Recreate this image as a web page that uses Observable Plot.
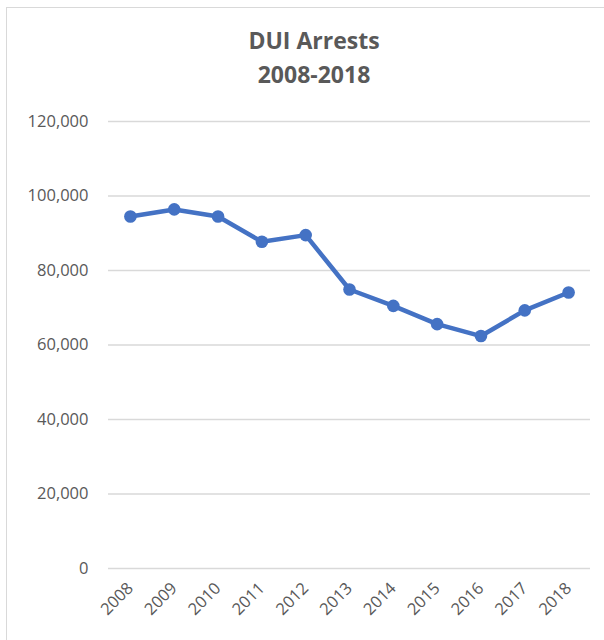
<!DOCTYPE html>
<html>
<head>
<meta charset="utf-8">
<script src="https://cdn.jsdelivr.net/npm/d3@7"></script>
<script src="https://cdn.jsdelivr.net/npm/@observablehq/plot@0.6"></script>
<style>
  html, body { margin: 0; padding: 0; background: #fff; }
  body { width: 604px; height: 640px; position: relative; overflow: hidden; font-family: "Open Sans", sans-serif; }
  #frame { position: absolute; left: 6px; top: 7px; width: 610px; height: 650px; border: 1px solid #d9d9d9; box-sizing: border-box; }
  #title { position: absolute; left: 214px; width: 200px; top: 23px; text-align: center; color: #595959; font-weight: 700; font-size: 23px; line-height: 34px; }
  #chart { position: absolute; left: 0; top: 91px; }
</style>
</head>
<body>
<div id="frame"></div>
<div id="title">DUI Arrests<br>2008-2018</div>
<div id="chart"></div>
<script>
const years = ["2008","2009","2010","2011","2012","2013","2014","2015","2016","2017","2018"];
const arrests = [94500, 96400, 94500, 87700, 89500, 74900, 70500, 65600, 62400, 69300, 74100];
const yTicks = [0, 20000, 40000, 60000, 80000, 100000, 120000];

const data = years.map((y, i) => ({year: y, value: arrests[i]}));
const fmt = d3.format(",");

const chart = Plot.plot({
  width: 604,
  height: 540,
  marginLeft: 108,
  marginRight: 14,
  marginTop: 30,
  marginBottom: 63,
  style: { fontFamily: "Open Sans, sans-serif", fontSize: "16px", color: "#595959", background: "transparent" },
  x: { type: "point", domain: years, padding: 0.5, round: false },
  y: { domain: [0, 120000] },
  marks: [
    Plot.gridY(yTicks, { stroke: "#d9d9d9", strokeOpacity: 1, strokeWidth: 1.3 }),
    Plot.axisY(yTicks, { tickSize: 0, tickPadding: 20, tickFormat: fmt, label: null, fill: "#595959", fontSize: 16.5 }),
    Plot.axisX({ tickSize: 0, tickPadding: 17, tickRotate: -45, label: null, fill: "#595959", fontSize: 16.5 }),
    Plot.line(data, { x: "year", y: "value", stroke: "#4472C4", strokeWidth: 4.5, strokeLinejoin: "round", strokeLinecap: "round" }),
    Plot.dot(data, { x: "year", y: "value", fill: "#4472C4", r: 6.3 })
  ]
});
document.getElementById("chart").appendChild(chart);
</script>
</body>
</html>
